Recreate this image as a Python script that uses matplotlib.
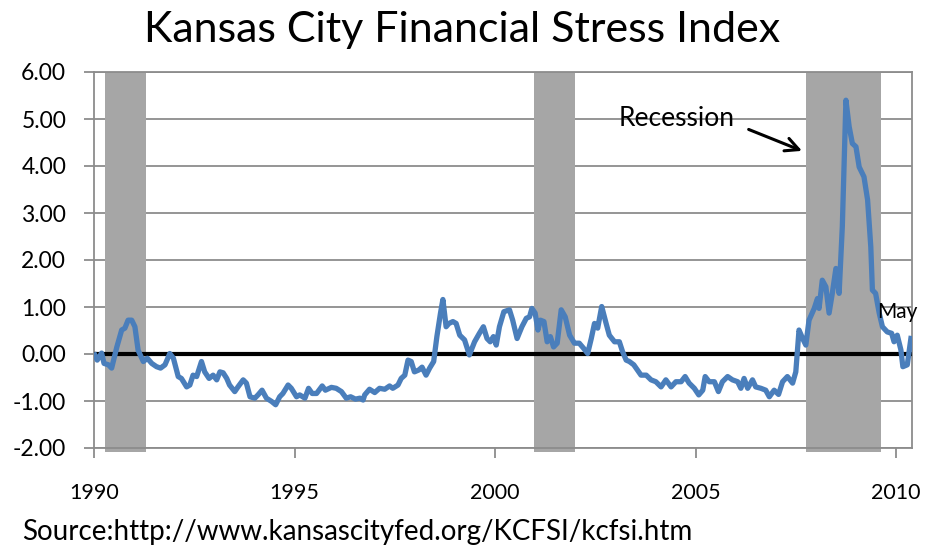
import numpy as np
import matplotlib
matplotlib.use("Agg")
import matplotlib.pyplot as plt

plt.rcParams['font.family'] = ['Lato', 'DejaVu Sans']

# monthly-ish readings of the KC Financial Stress Index (decimal year, index value)
years = [
    1990.02, 1990.08, 1990.19, 1990.25, 1990.36, 1990.44, 1990.57, 1990.69, 1990.77, 1990.85,
    1990.94, 1991.02, 1991.10, 1991.23, 1991.33, 1991.44, 1991.56, 1991.66, 1991.77, 1991.89,
    1991.98, 1992.10, 1992.18, 1992.31, 1992.39, 1992.47, 1992.56, 1992.68, 1992.76, 1992.87,
    1992.97, 1993.06, 1993.14, 1993.22, 1993.31, 1993.38, 1993.51, 1993.59, 1993.72, 1993.80,
    1993.89, 1994.01, 1994.09, 1994.19, 1994.30, 1994.43, 1994.53, 1994.63, 1994.71, 1994.84,
    1994.92, 1995.05, 1995.13, 1995.26, 1995.35, 1995.44, 1995.55, 1995.69, 1995.77, 1995.92,
    1996.04, 1996.17, 1996.29, 1996.40, 1996.52, 1996.63, 1996.71, 1996.75, 1996.87, 1997.00,
    1997.12, 1997.25, 1997.37, 1997.45, 1997.58, 1997.66, 1997.75, 1997.83, 1997.91, 1997.99,
    1998.10, 1998.18, 1998.28, 1998.37, 1998.47, 1998.55, 1998.64, 1998.70, 1998.78, 1998.85,
    1998.95, 1999.03, 1999.12, 1999.24, 1999.36, 1999.49, 1999.61, 1999.71, 1999.80, 1999.88,
    1999.96, 2000.03, 2000.11, 2000.22, 2000.36, 2000.44, 2000.55, 2000.67, 2000.78, 2000.86,
    2000.92, 2001.00, 2001.07, 2001.13, 2001.22, 2001.30, 2001.38, 2001.46, 2001.55, 2001.65,
    2001.75, 2001.86, 2001.98, 2002.10, 2002.21, 2002.31, 2002.40, 2002.48, 2002.56, 2002.66,
    2002.77, 2002.85, 2002.98, 2003.10, 2003.18, 2003.27, 2003.35, 2003.46, 2003.64, 2003.77,
    2003.89, 2004.01, 2004.14, 2004.26, 2004.39, 2004.51, 2004.64, 2004.74, 2004.84, 2004.97,
    2005.08, 2005.18, 2005.24, 2005.34, 2005.47, 2005.57, 2005.67, 2005.80, 2005.92, 2006.05,
    2006.13, 2006.21, 2006.30, 2006.42, 2006.50, 2006.63, 2006.75, 2006.84, 2006.96, 2007.07,
    2007.17, 2007.29, 2007.42, 2007.50, 2007.58, 2007.67, 2007.75, 2007.83, 2007.96, 2008.04,
    2008.08, 2008.16, 2008.25, 2008.33, 2008.41, 2008.50, 2008.58, 2008.66, 2008.75, 2008.83,
    2008.91, 2009.00, 2009.08, 2009.20, 2009.29, 2009.37, 2009.41, 2009.49, 2009.58, 2009.66,
    2009.78, 2009.89, 2009.95, 2010.03, 2010.12, 2010.17, 2010.28, 2010.37,
]
kcfsi = [
    -0.02, -0.13, 0.02, -0.20, -0.23, -0.30, 0.15, 0.51, 0.55, 0.72,
    0.72, 0.58, 0.08, -0.16, -0.09, -0.20, -0.27, -0.30, -0.23, 0.01,
    -0.09, -0.48, -0.52, -0.70, -0.66, -0.45, -0.48, -0.16, -0.38, -0.52,
    -0.45, -0.55, -0.38, -0.40, -0.52, -0.66, -0.80, -0.70, -0.55, -0.62,
    -0.91, -0.94, -0.87, -0.77, -0.94, -1.01, -1.08, -0.91, -0.84, -0.66,
    -0.73, -0.91, -0.87, -0.94, -0.73, -0.84, -0.84, -0.68, -0.77, -0.71,
    -0.73, -0.80, -0.94, -0.91, -0.96, -0.94, -0.98, -0.87, -0.75, -0.82,
    -0.73, -0.75, -0.68, -0.73, -0.66, -0.52, -0.45, -0.13, -0.16, -0.38,
    -0.34, -0.28, -0.45, -0.30, -0.16, 0.37, 0.87, 1.16, 0.58, 0.65,
    0.69, 0.65, 0.40, 0.30, -0.02, 0.26, 0.44, 0.58, 0.33, 0.26,
    0.37, 0.19, 0.58, 0.90, 0.94, 0.72, 0.33, 0.58, 0.76, 0.79,
    0.97, 0.87, 0.51, 0.72, 0.69, 0.26, 0.37, 0.15, 0.23, 0.94,
    0.79, 0.40, 0.23, 0.23, 0.12, 0.01, 0.33, 0.65, 0.55, 1.01,
    0.65, 0.40, 0.26, 0.26, 0.05, -0.13, -0.16, -0.23, -0.45, -0.45,
    -0.55, -0.59, -0.70, -0.55, -0.70, -0.59, -0.59, -0.48, -0.62, -0.73,
    -0.87, -0.77, -0.48, -0.59, -0.59, -0.80, -0.59, -0.48, -0.55, -0.59,
    -0.73, -0.52, -0.73, -0.55, -0.70, -0.73, -0.77, -0.91, -0.77, -0.86,
    -0.59, -0.48, -0.62, -0.38, 0.51, 0.33, 0.19, 0.72, 0.97, 1.18,
    0.97, 1.57, 1.43, 0.87, 1.29, 1.82, 1.29, 2.71, 5.40, 4.84,
    4.48, 4.41, 3.98, 3.77, 3.28, 2.28, 1.36, 1.29, 0.87, 0.58,
    0.47, 0.44, 0.26, 0.40, 0.09, -0.27, -0.23, 0.33,
]

# recession bands as drawn in the chart
rec_start = [1990.27, 2000.97, 2007.76]
rec_end = [1991.30, 2002.00, 2009.62]

xticks = [1990, 1995, 2000, 2005, 2010]
yticks = [-2, -1, 0, 1, 2, 3, 4, 5, 6]

fig = plt.figure(figsize=(9.3, 5.47), dpi=100)
ax = fig.add_axes([94/930, 1-448/547, (911.7-94)/930, (448-72)/547])

grid_c = '#8c8c8c'
for s, e in zip(rec_start, rec_end):
    ax.axvspan(s, e, ymin=-0.01, ymax=1, color='#a6a6a6', lw=0, zorder=2, clip_on=False)

for yv in yticks:
    ax.axhline(yv, color=grid_c, lw=1.3, zorder=1)
ax.axhline(0, color='black', lw=3, zorder=3)

ax.plot(years, kcfsi, color='#4a7ebb', lw=3.8, zorder=4, solid_joinstyle='round')

ax.set_xlim(1990, 2010.39)
ax.set_ylim(-2, 6)
ax.set_xticks(xticks)
ax.set_xticklabels([str(x) for x in xticks])
ax.set_yticks(yticks)
ax.set_yticklabels(['%.2f' % v for v in yticks])

for sp in ax.spines.values():
    sp.set_color(grid_c)
    sp.set_linewidth(1.3)

ax.tick_params(axis='x', direction='out', length=7, width=1.3, color=grid_c,
               labelsize=15.5, pad=18)
ax.tick_params(axis='y', direction='out', length=7, width=1.3, color=grid_c,
               labelsize=16.5, pad=13)

fig.text(0.497, 0.945, 'Kansas City Financial Stress Index', ha='center', va='center',
         fontsize=31)
fig.text(22/930, 7/547, 'Source:http://www.kansascityfed.org/KCFSI/kcfsi.htm',
         ha='left', va='baseline', fontsize=20)

ax.text(2004.53, 5.02, 'Recession', ha='center', va='center', fontsize=19, zorder=5)
ax.annotate('', xy=(2007.72, 4.30), xytext=(2006.26, 4.80),
            arrowprops=dict(arrowstyle='->', color='black', lw=2.2, mutation_scale=24),
            zorder=5)
ax.text(2009.53, 0.90, 'May', ha='left', va='center', fontsize=15, zorder=5, clip_on=False)

fig.savefig('out.png', dpi=100)
